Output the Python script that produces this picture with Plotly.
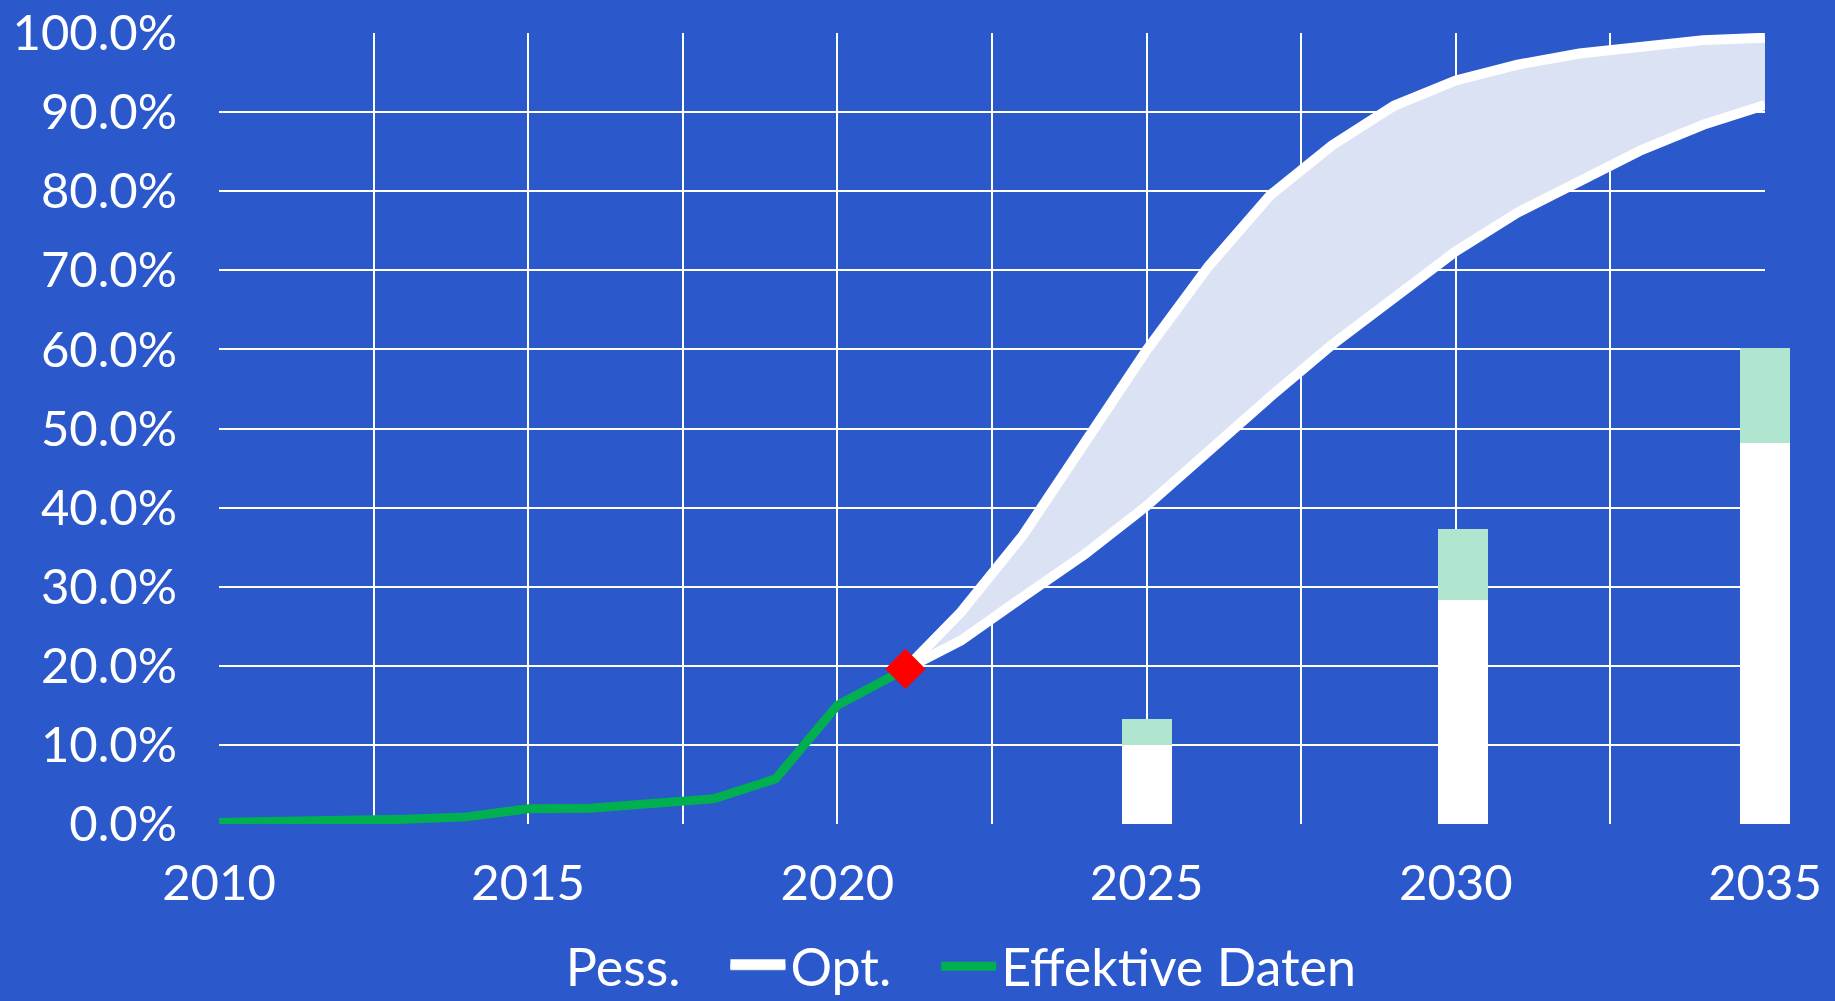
import plotly.graph_objects as go

# values (shares, 0..1)
hist_years = [2010, 2011, 2012, 2013, 2014, 2015, 2016, 2017, 2018, 2019, 2020, 2021.1]
hist_share = [0.002, 0.0025, 0.0037, 0.006, 0.009, 0.0193, 0.0199, 0.026, 0.032, 0.057, 0.150, 0.196]

proj_years = [2021.1, 2022, 2023, 2024, 2025, 2026, 2027, 2028, 2029, 2030, 2031, 2032, 2033, 2034, 2035]
pess_share = [0.196, 0.232, 0.287, 0.341, 0.402, 0.472, 0.540, 0.606, 0.665, 0.724, 0.773, 0.812, 0.852, 0.884, 0.909]
opt_share = [0.196, 0.268, 0.365, 0.480, 0.599, 0.705, 0.795, 0.858, 0.908, 0.940, 0.960, 0.974, 0.984, 0.991, 0.994]

bar_years = [2025, 2030.12, 2035]
bar_base = [0.100, 0.283, 0.482]
bar_extra = [0.033, 0.090, 0.120]

BG = "#2b58cb"
WHITE = "#ffffff"
GREEN = "#00b050"
FILL = "rgb(218,226,244)"
FONT = dict(family="Lato, 'Open Sans', sans-serif", size=49, color=WHITE)
GAP = "\u00a0" * 3  # extra room between legend entries

# main grid spans 2010..2035; the bar layer gets a slightly wider second
# subplot so the 2035 bar can stick out past the right edge of the grid
W, L, R = 1835, 219, 40
grid_px = 1546
area_px = W - L - R
main_frac = grid_px / area_px
x2_end = 2010 + 25 * area_px / grid_px

fig = go.Figure()

# legend-only entry: "Pess." shows without a visible symbol
fig.add_trace(go.Scatter(x=[None], y=[None], mode="lines", name="Pess." + GAP,
                         line=dict(color="rgba(0,0,0,0)", width=10)))
fig.add_trace(go.Scatter(x=proj_years, y=pess_share, mode="lines", name="Pess.",
                         line=dict(color=WHITE, width=10), showlegend=False))
fig.add_trace(go.Scatter(x=proj_years, y=opt_share, mode="lines", name="Opt." + GAP,
                         line=dict(color=WHITE, width=10), fill="tonexty", fillcolor=FILL))
fig.add_trace(go.Scatter(x=hist_years, y=hist_share, mode="lines", name="Effektive Daten",
                         line=dict(color=GREEN, width=9)))

fig.add_trace(go.Bar(x=bar_years, y=bar_base, width=0.81, marker=dict(color=WHITE, line_width=0),
                     showlegend=False, xaxis="x2", yaxis="y2"))
fig.add_trace(go.Bar(x=bar_years, y=bar_extra, width=0.81, marker=dict(color="#b0e5d0", line_width=0),
                     showlegend=False, xaxis="x2", yaxis="y2"))

fig.add_trace(go.Scatter(x=[hist_years[-1]], y=[hist_share[-1]], mode="markers",
                         marker=dict(symbol="diamond", size=31, color="#ff0000"),
                         showlegend=False, cliponaxis=False, xaxis="x2", yaxis="y2"))

fig.update_layout(
    width=W, height=1001,
    paper_bgcolor=BG, plot_bgcolor="rgba(0,0,0,0)",
    font=FONT,
    barmode="stack",
    margin=dict(l=L, r=R, t=33, b=177, pad=0, autoexpand=False),
    legend=dict(orientation="h", traceorder="normal", x=0.452, xanchor="center",
                y=-0.18, yanchor="middle", bgcolor="rgba(0,0,0,0)",
                font=dict(FONT, size=52), itemwidth=55),
    showlegend=True,
    xaxis=dict(
        domain=[0, main_frac], range=[2010, 2035], tick0=2010, dtick=5, tickformat="d",
        showgrid=True, gridcolor=WHITE, gridwidth=2,
        minor=dict(dtick=2.5, tick0=2010, showgrid=True, gridcolor=WHITE, gridwidth=2),
        zeroline=False, showline=False, ticks="", ticklabelstandoff=26,
    ),
    yaxis=dict(
        range=[0, 1], tick0=0, dtick=0.1, tickformat=".1%",
        showgrid=True, gridcolor=WHITE, gridwidth=2,
        zeroline=False, showline=False, ticks="", ticklabelstandoff=41,
    ),
    xaxis2=dict(domain=[0, 1], range=[2010, x2_end], anchor="y2", visible=False),
    yaxis2=dict(domain=[0, 1], range=[0, 1], anchor="x2", visible=False),
)

# drop the page's default body margin so the figure sits flush in the window
fig.write_html("out.html", config={"displayModeBar": False},
               post_script="document.body.style.margin='0';")
